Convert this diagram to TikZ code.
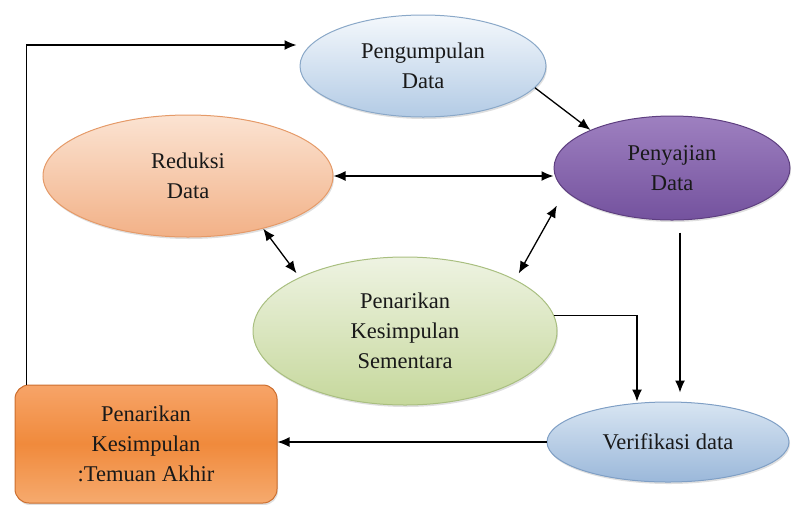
\documentclass[tikz,border=0pt]{standalone}
\usepackage{fontspec}
\setmainfont{Liberation Serif}
\usetikzlibrary{shapes.geometric,arrows.meta,shadows,calc}
\definecolor{pgTop}{HTML}{F4F8FC}\definecolor{pgBot}{HTML}{B3CBE5}\definecolor{pgLine}{HTML}{8AA8C8}
\definecolor{rdTop}{HTML}{FBE3D2}\definecolor{rdBot}{HTML}{F2B187}\definecolor{rdLine}{HTML}{E59A68}
\definecolor{pyTop}{HTML}{9E80C0}\definecolor{pyBot}{HTML}{74529E}\definecolor{pyLine}{HTML}{5E3F80}
\definecolor{smTop}{HTML}{EEF3E2}\definecolor{smBot}{HTML}{C6D89C}\definecolor{smLine}{HTML}{A9BF80}
\definecolor{vfTop}{HTML}{D8E5F2}\definecolor{vfBot}{HTML}{9BB8DA}\definecolor{vfLine}{HTML}{7F9FC5}
\definecolor{bxTop}{HTML}{F7A468}\definecolor{bxMid}{HTML}{F08A3C}\definecolor{bxBot}{HTML}{F6AA6E}\definecolor{bxLine}{HTML}{CC6E2E}
\begin{document}
\begin{tikzpicture}[x=1pt,y=-1pt,
  txt/.style={align=center,font=\fontsize{22.5}{30}\selectfont,text=black!90},
  ell/.style={ellipse,inner sep=0pt,txt,line width=1pt,
    drop shadow={shadow xshift=1pt,shadow yshift=-2pt,opacity=0.25}},
  arr/.style={line width=1.3pt,-{Latex[length=12pt,width=10pt]}},
  darr/.style={line width=1.3pt,{Latex[length=12pt,width=10pt]}-{Latex[length=12pt,width=10pt]}}]
\useasboundingbox (0,0) rectangle (791,504);
\node[ell,minimum width=246,minimum height=102,draw=pgLine,top color=pgTop,bottom color=pgBot] (peng) at (423,66) {Pengumpulan\\Data};
\node[ell,minimum width=290,minimum height=122,draw=rdLine,top color=rdTop,bottom color=rdBot] (redu) at (188,176) {Reduksi\\Data};
\node[ell,minimum width=236,minimum height=104,draw=pyLine,top color=pyTop,bottom color=pyBot] (peny) at (672,168) {Penyajian\\Data};
\node[ell,minimum width=304,minimum height=148,draw=smLine,top color=smTop,bottom color=smBot] (sem) at (405,331) {Penarikan\\Kesimpulan\\Sementara};
\node[ell,minimum width=242,minimum height=80,draw=vfLine,top color=vfTop,bottom color=vfBot] (verif) at (668,442) {Verifikasi data};
\node[txt,rectangle,rounded corners=14pt,minimum width=262,minimum height=118,draw=bxLine,line width=1pt,
  top color=bxTop,bottom color=bxBot,middle color=bxMid,
  drop shadow={shadow xshift=1pt,shadow yshift=-2pt,opacity=0.25}] (box) at (146,444) {Penarikan\\Kesimpulan\\:Temuan Akhir};
% connectors
\draw[arr,shorten >=3pt] ($(box.north west)+(12,0)$) |- ([yshift=21pt]peng.west);
\draw[arr] (peng.-11) -- (peny.155);
\draw[darr] (redu.east) -- (redu.east -| peny.west);
\draw[darr,shorten >=5pt] (redu.-35) -- (sem.153);
\draw[darr,shorten <=7pt,shorten >=17pt] (sem.25) -- (peny.-168);
\draw[arr,shorten <=12pt,shorten >=9pt] ([xshift=8pt]peny.south) -- ([xshift=8pt]peny.south |- verif.north);
\draw[arr] (sem.6.5) -| ([xshift=-31pt]verif.north);
\draw[arr] (verif.west) -- (verif.west -| box.east);
\end{tikzpicture}
\end{document}
